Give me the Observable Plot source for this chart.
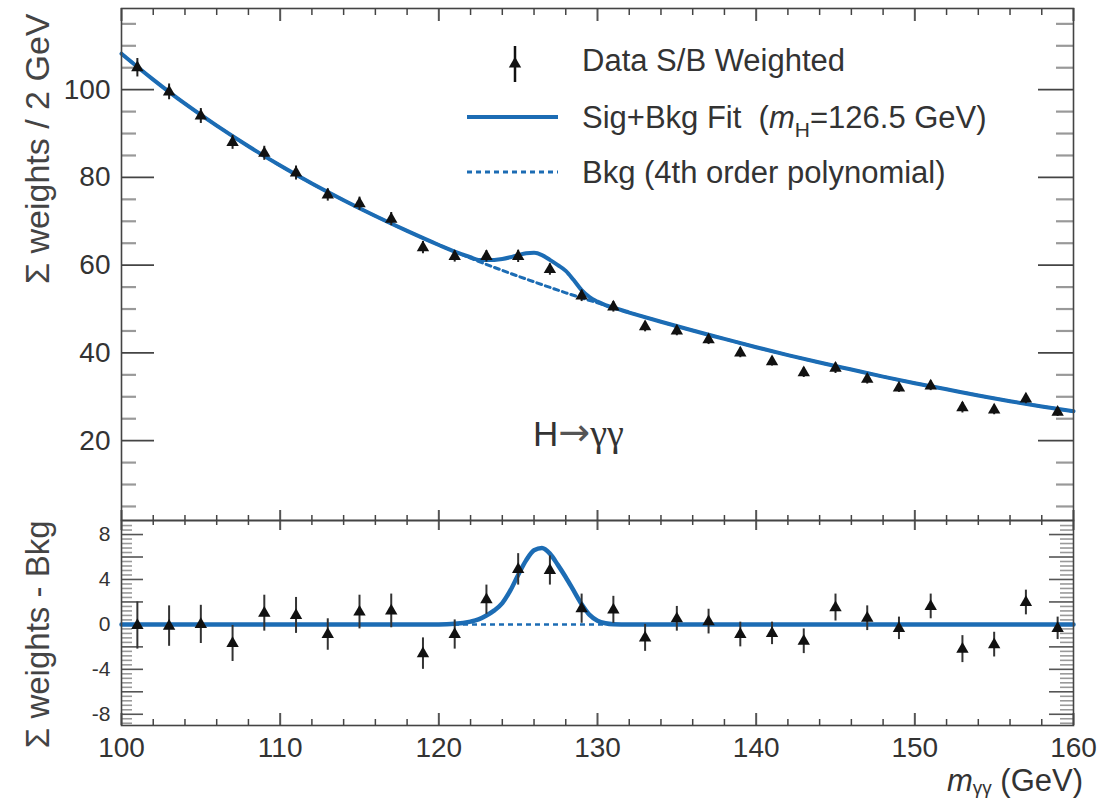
<!DOCTYPE html>
<html><head><meta charset="utf-8">
<script src="https://cdn.jsdelivr.net/npm/d3@7"></script>
<script src="https://cdn.jsdelivr.net/npm/@observablehq/plot@0.6"></script>
<style>
html,body{margin:0;padding:0;background:#fff;}
#wrap{position:relative;width:1099px;height:798px;overflow:hidden;}
#wrap svg{position:absolute;left:0;top:0;}
</style></head><body><div id="wrap"></div>
<script>
// ---- data ----
const binCenters = [101,103,105,107,109,111,113,115,117,119,121,123,125,127,129,131,133,135,137,139,141,143,145,147,149,151,153,155,157,159];
const dataTop = [105,99.5,94,88,85.5,81,76,74,70.5,64,62,62,62,59,53,50.5,46,45,43,40,38,35.5,36.5,34,32,32.5,27.5,27,29.5,26.5];
const dataResid = [-0.1,-0.15,0,-1.7,1.0,0.8,-0.9,1.1,1.2,-2.6,-0.9,2.2,4.9,4.8,1.4,1.3,-1.2,0.5,0.25,-0.9,-0.8,-1.5,1.5,0.55,-0.35,1.6,-2.2,-1.8,1.95,-0.35];
const dataErr = [2.1,1.8,1.7,1.6,1.6,1.6,1.4,1.5,1.5,1.4,1.3,1.3,1.4,1.3,1.3,1.2,1.2,1.1,1.1,1.1,1.0,1.1,1.2,1.1,1.0,1.1,1.2,1.1,1.1,1.0];

const bkgX = [100,102,104,106,108,110,112,114,116,118,120,122,124,126,128,130,132,134,136,138,140,142,144,146,148,150,152,154,156,158,160];
const bkgTop = [108.2,102.3,96.8,91.8,87.1,82.7,78.6,74.8,71.2,67.8,64.6,61.6,58.8,56.2,53.7,51.4,49.2,47.1,45.1,43.2,41.3,39.5,37.8,36.2,34.6,33.1,31.7,30.3,29.0,27.8,26.7];

const fitX = [100,102,104,106,108,110,112,114,116,118,120,121,122,122.5,123,123.5,124,124.5,125,125.5,126,126.5,127,127.5,128,128.5,129,129.5,130,130.5,131,132,134,136,138,140,142,144,146,148,150,152,154,156,158,160];
const fitTop = [108.2,102.3,96.8,91.8,87.1,82.7,78.6,74.8,71.2,67.8,64.6,63.1,61.8,61.2,61.15,61.2,61.4,61.8,62.3,62.7,62.8,62.3,61.2,60.0,58.7,56.6,54.3,52.7,51.7,50.9,50.3,49.2,47.1,45.1,43.2,41.3,39.5,37.8,36.2,34.6,33.1,31.7,30.3,29.0,27.8,26.7];

const sigX = [100,110,120,121,122,122.5,123,123.5,124,124.5,125,125.5,126,126.5,127,127.5,128,128.5,129,129.5,130,130.5,131,132,140,150,160];
const sigResid = [0,0,0,0.05,0.25,0.45,0.8,1.25,1.9,3.0,4.4,5.7,6.6,6.8,6.3,5.3,4.2,3.0,1.8,0.85,0.33,0.1,0.02,0,0,0,0];

const topYTicks = [20,40,60,80,100];
const bottomYTicks = [-8,-4,0,4,8];
const xTicks = [100,110,120,130,140,150,160];

const legendLabels = ["Data S/B Weighted", "Sig+Bkg Fit", "Bkg (4th order polynomial)"];
const yTitleTop = "Σ weights / 2 GeV";
const yTitleBottom = "Σ weights - Bkg";

// ---- layout / style ----
const FONT = '"Liberation Sans", Arial, Helvetica, sans-serif';
const BLUE = "#1c6cb4";
const W = 1099, H = 798;
const X0 = 121, X1 = 1073;          // frame left / right
const TOP0 = 8, MID = 520, BOT1 = 725;
const PW = X1 - X0;
const PH_TOP = MID - TOP0, PH_BOT = BOT1 - MID;

function steps(a, b, s) { const r = []; for (let v = a; v <= b + 1e-9; v += s) r.push(+v.toFixed(4)); return r; }
const xMinor = steps(100, 160, 2).filter(v => v % 10 !== 0);

const pts = binCenters.map((x, i) => ({x, top: dataTop[i], res: dataResid[i], e: dataErr[i]}));
const bkgTable = bkgX.map((x, i) => ({x, y: bkgTop[i]}));
const fitTable = fitX.map((x, i) => ({x, y: fitTop[i]}));
const sigTable = sigX.map((x, i) => ({x, y: sigResid[i]}));

const topMinorY = steps(5, 115, 5).filter(v => v % 20 !== 0);
const botMinorY = steps(-8.8, 8.8, 0.4).filter(v => Math.abs(v % 2) > 1e-6);
const botMajorY = steps(-8, 8, 2);

const topPlot = Plot.plot({
  width: W, height: H,
  marginLeft: X0, marginRight: W - X1, marginTop: TOP0, marginBottom: H - MID,
  x: {domain: [100, 160], axis: null},
  y: {domain: [1.8, 118.5]},
  style: {fontFamily: FONT, background: "transparent", overflow: "visible"},
  marks: [
    Plot.tickY(topMinorY, {y: d => d, insetRight: PW - 15, stroke: "#999", strokeWidth: 2.2}),
    Plot.tickY(topYTicks, {y: d => d, insetRight: PW - 33, stroke: "#444", strokeWidth: 1.6}),
    Plot.tickY(topMinorY, {y: d => d, insetLeft: PW - 17, stroke: "#999", strokeWidth: 2.2}),
    Plot.tickY(topYTicks, {y: d => d, insetLeft: PW - 35, stroke: "#444", strokeWidth: 1.6}),
    Plot.tickX(xMinor, {x: d => d, insetBottom: PH_TOP - 7, stroke: "#444", strokeWidth: 1.5}),
    Plot.tickX(xTicks, {x: d => d, insetBottom: PH_TOP - 13, stroke: "#555", strokeWidth: 2}),
    Plot.tickX(xMinor, {x: d => d, insetTop: PH_TOP - 5, stroke: "#444", strokeWidth: 1.5}),
    Plot.tickX(xTicks, {x: d => d, insetTop: PH_TOP - 10, stroke: "#555", strokeWidth: 2}),
    Plot.line(bkgTable, {x: "x", y: "y", stroke: BLUE, strokeWidth: 3, strokeDasharray: "5,4", curve: "monotone-x"}),
    Plot.line(fitTable, {x: "x", y: "y", stroke: BLUE, strokeWidth: 4, curve: "monotone-x"}),
    Plot.ruleX(pts, {x: "x", y1: d => d.top - d.e, y2: d => d.top + d.e, stroke: "#222", strokeWidth: 2}),
    Plot.dot(pts, {x: "x", y: "top", symbol: "triangle", r: 4.6, fill: "#111", stroke: "none"}),
    Plot.frame({stroke: "#444", strokeWidth: 1.6}),
    Plot.axisY(topYTicks, {tickSize: 0, tickPadding: 11, fontSize: 28, label: null, fill: "#333"}),
    Plot.text([yTitleTop], {text: d => d, frameAnchor: "top-left", dx: -83, dy: 5, rotate: -90, textAnchor: "end", lineAnchor: "middle", fontSize: 34, fill: "#444"})
  ]
});

const botPlot = Plot.plot({
  width: W, height: H,
  marginLeft: X0, marginRight: W - X1, marginTop: MID, marginBottom: H - BOT1,
  x: {domain: [100, 160]},
  y: {domain: [-9, 9.25]},
  style: {fontFamily: FONT, background: "transparent", overflow: "visible"},
  marks: [
    Plot.tickY(botMinorY, {y: d => d, insetRight: PW - 11, stroke: "#999", strokeWidth: 1.6}),
    Plot.tickY(botMajorY, {y: d => d, insetRight: PW - 22, stroke: "#555", strokeWidth: 1.6}),
    Plot.tickY(botMinorY, {y: d => d, insetLeft: PW - 13, stroke: "#999", strokeWidth: 1.6}),
    Plot.tickY(botMajorY, {y: d => d, insetLeft: PW - 24, stroke: "#555", strokeWidth: 1.6}),
    Plot.tickX(xMinor, {x: d => d, insetBottom: PH_BOT - 5, stroke: "#444", strokeWidth: 1.5}),
    Plot.tickX(xTicks, {x: d => d, insetBottom: PH_BOT - 10, stroke: "#555", strokeWidth: 2}),
    Plot.tickX(xMinor, {x: d => d, insetTop: PH_BOT - 6, stroke: "#444", strokeWidth: 1.5}),
    Plot.tickX(xTicks, {x: d => d, insetTop: PH_BOT - 12, stroke: "#555", strokeWidth: 2}),
    Plot.ruleY([0], {stroke: BLUE, strokeWidth: 2.5, strokeDasharray: "5,4"}),
    Plot.line(sigTable, {x: "x", y: "y", stroke: BLUE, strokeWidth: 4.5, curve: "monotone-x"}),
    Plot.ruleX(pts, {x: "x", y1: d => d.res - d.e, y2: d => d.res + d.e, stroke: "#333", strokeWidth: 2}),
    Plot.dot(pts, {x: "x", y: "res", symbol: "triangle", r: 4.6, fill: "#111", stroke: "none"}),
    Plot.frame({stroke: "#444", strokeWidth: 1.6}),
    Plot.axisY(bottomYTicks, {tickSize: 0, tickPadding: 11, fontSize: 21, label: null, fill: "#333", tickFormat: d => String(d)}),
    Plot.axisX(xTicks, {tickSize: 0, tickPadding: 12, fontSize: 28, label: null, fill: "#333", tickFormat: d => String(d)}),
    Plot.text([yTitleBottom], {text: d => d, frameAnchor: "top-left", dx: -83, dy: 0, rotate: -90, textAnchor: "end", lineAnchor: "middle", fontSize: 33, fill: "#444"})
  ]
});

// ---- legend, channel label and x title (overlay) ----
const ov = d3.create("svg").attr("width", W).attr("height", H)
  .style("font-family", FONT).style("pointer-events", "none");
const lg = ov.append("g").attr("fill", "#333").attr("font-size", 31);
lg.append("line").attr("x1", 515).attr("x2", 515).attr("y1", 46).attr("y2", 82)
  .attr("stroke", "#111").attr("stroke-width", 2.5);
lg.append("path").attr("d", d3.symbol(d3.symbolTriangle, 66)()).attr("transform", "translate(515,64)").attr("fill", "#111");
lg.append("text").attr("x", 582).attr("y", 71).text(legendLabels[0]);
lg.append("line").attr("x1", 467).attr("x2", 558).attr("y1", 117).attr("y2", 117)
  .attr("stroke", BLUE).attr("stroke-width", 4);
const t2 = lg.append("text").attr("x", 582).attr("y", 128);
t2.append("tspan").text(legendLabels[1] + "\u00a0 (");
t2.append("tspan").attr("font-style", "italic").text("m");
t2.append("tspan").attr("font-size", 21).attr("dy", 9).text("H");
t2.append("tspan").attr("dy", -9).text("=126.5 GeV)");
lg.append("line").attr("x1", 467).attr("x2", 558).attr("y1", 172).attr("y2", 172)
  .attr("stroke", BLUE).attr("stroke-width", 3).attr("stroke-dasharray", "5,4");
lg.append("text").attr("x", 582).attr("y", 183).text(legendLabels[2]);

const ch = ov.append("text").attr("x", 533).attr("y", 446).attr("font-size", 35).attr("fill", "#333");
ch.append("tspan").text("H");
ch.append("tspan").attr("font-family", '"DejaVu Sans", sans-serif').attr("font-size", 38).attr("fill", "#555").attr("dy", -1).text("→");
ch.append("tspan").attr("font-family", '"Liberation Serif", serif').attr("font-size", 38).attr("dy", 1).text("γγ");

const xt = ov.append("text").attr("x", 1083).attr("y", 791).attr("text-anchor", "end")
  .attr("font-size", 31).attr("fill", "#333");
xt.append("tspan").attr("font-style", "italic").text("m");
xt.append("tspan").attr("font-size", 19).attr("dy", 3).text("γγ");
xt.append("tspan").attr("dy", -3).text(" (GeV)");

document.getElementById("wrap").append(topPlot, botPlot, ov.node());
</script>
</body></html>
